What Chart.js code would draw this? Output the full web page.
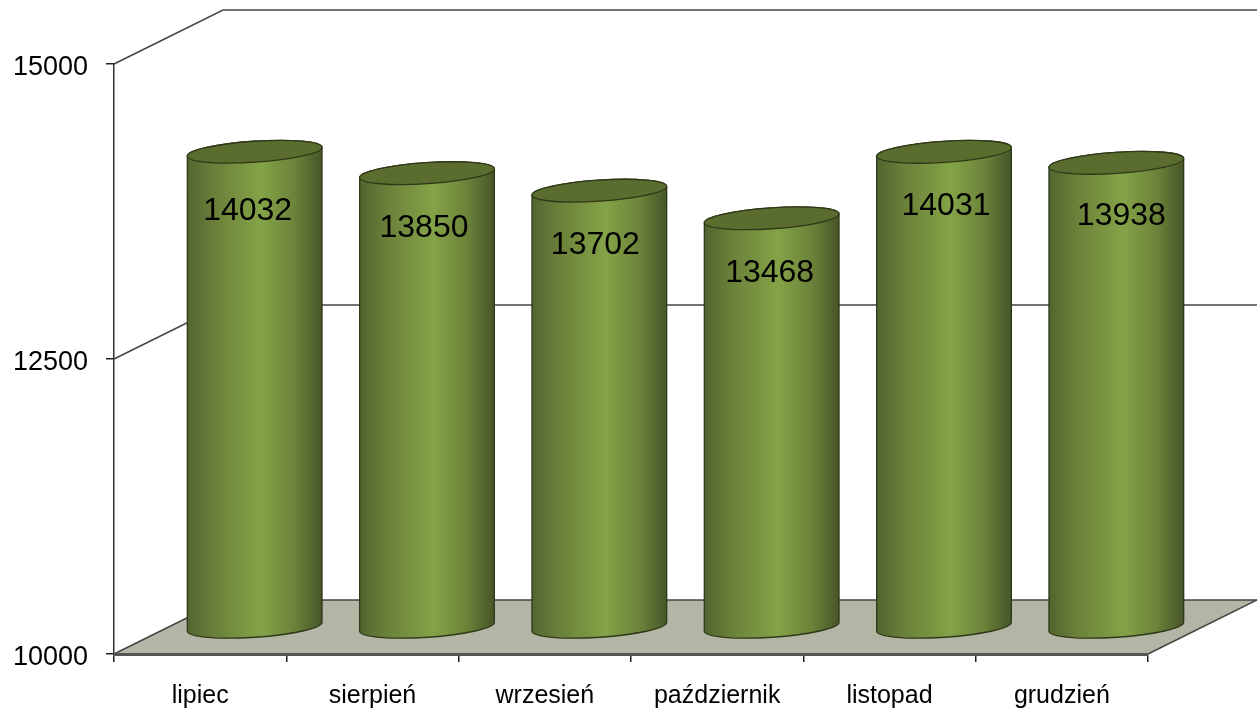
<!DOCTYPE html>
<html lang="pl">
<head>
    <meta charset="UTF-8">
    <title>Wykres</title>
    <script src="https://cdn.jsdelivr.net/npm/chart.js"></script>
    <style>
        html, body { margin: 0; padding: 0; background: #fff; overflow: hidden; }
        canvas { display: block; }
    </style>
</head>
<body>
    <canvas id="chart" width="1257" height="708"></canvas>
    <script>
        const categories = ['lipiec', 'sierpień', 'wrzesień', 'październik', 'listopad', 'grudzień'];
        const values = [14032, 13850, 13702, 13468, 14031, 13938];
        const yMin = 10000;
        const yMax = 15000;
        const yStep = 2500;

        // depth of the fake 3D box, bars sit half way in
        const depthX = 109;
        const depthY = 54;
        const barW = 135;
        const capRy = 10.5;
        const capRot = -3.8 * Math.PI / 180;
        const fontName = '"Liberation Sans", Arial, sans-serif';

        // labels were moved by hand in the original
        const labelNudgeX = [-7, -3, -4, -2, 2, 5];
        const labelNudgeY = [60, 55, 55, 55, 55, 54];

        function barGradient(ctx, left) {
            const g = ctx.createLinearGradient(left, 0, left + barW, 0);
            g.addColorStop(0, '#526430');
            g.addColorStop(0.2, '#6a8039');
            g.addColorStop(0.55, '#84a347');
            g.addColorStop(0.8, '#6b8239');
            g.addColorStop(1, '#465528');
            return g;
        }

        function silhouette(ctx, el) {
            // start on the left end of the tilted top ellipse
            const rx = barW / 2;
            ctx.moveTo(el.x - rx * Math.cos(capRot), el.y - rx * Math.sin(capRot));
            ctx.ellipse(el.x, el.y, rx, capRy, capRot, Math.PI, Math.PI * 2);
            ctx.ellipse(el.x, el.base, rx, capRy, capRot, 0, Math.PI);
            ctx.closePath();
        }

        const box3d = {
            id: 'box3d',
            beforeDraw(chart) {
                const ctx = chart.ctx;
                const a = chart.chartArea;
                const yScale = chart.scales.y;
                ctx.save();
                // floor
                ctx.fillStyle = '#b3b6a5';
                ctx.beginPath();
                ctx.moveTo(a.left, a.bottom);
                ctx.lineTo(a.right, a.bottom);
                ctx.lineTo(a.right + depthX, a.bottom - depthY);
                ctx.lineTo(a.left + depthX, a.bottom - depthY);
                ctx.closePath();
                ctx.fill();
                // gridlines running over the side and back walls
                ctx.strokeStyle = '#444';
                ctx.lineWidth = 1.5;
                for (let v = yMin; v <= yMax; v += yStep) {
                    const y = yScale.getPixelForValue(v);
                    ctx.beginPath();
                    ctx.moveTo(a.left, y);
                    ctx.lineTo(a.left + depthX, y - depthY);
                    ctx.lineTo(a.right + depthX, y - depthY);
                    ctx.stroke();
                }
                ctx.beginPath();
                ctx.moveTo(a.right, a.bottom);
                ctx.lineTo(a.right + depthX, a.bottom - depthY);
                ctx.stroke();
                ctx.restore();
            },
            beforeDatasetsDraw(chart) {
                const ctx = chart.ctx;
                const bars = chart.getDatasetMeta(0).data;
                ctx.save();
                ctx.translate(depthX / 2, -depthY / 2 + 0.5);
                ctx.save();
                ctx.beginPath();
                bars.forEach(el => silhouette(ctx, el));
                ctx.clip();
                // bits of the cylinder the flat bar does not reach
                bars.forEach(el => {
                    ctx.fillStyle = barGradient(ctx, el.x - barW / 2);
                    ctx.fillRect(el.x - barW / 2 - 2, el.y - capRy - 2, barW + 4, capRy * 2 + 4);
                    ctx.fillRect(el.x - barW / 2 - 2, el.base - capRy - 2, barW + 4, capRy * 2 + 4);
                });
            },
            afterDatasetsDraw(chart) {
                const ctx = chart.ctx;
                const bars = chart.getDatasetMeta(0).data;
                ctx.restore();
                bars.forEach(el => {
                    ctx.strokeStyle = '#2f3818';
                    ctx.lineWidth = 1.3;
                    ctx.beginPath();
                    silhouette(ctx, el);
                    ctx.stroke();
                    ctx.fillStyle = '#5a6c2e';
                    ctx.beginPath();
                    ctx.ellipse(el.x, el.y, barW / 2, capRy, capRot, 0, Math.PI * 2);
                    ctx.fill();
                    ctx.stroke();
                });
                ctx.restore();
                ctx.save();
                ctx.fillStyle = '#000';
                ctx.font = '32px ' + fontName;
                ctx.textAlign = 'center';
                ctx.textBaseline = 'middle';
                bars.forEach((el, i) => {
                    ctx.fillText(String(values[i]),
                        el.x + depthX / 2 + labelNudgeX[i],
                        el.y - depthY / 2 + labelNudgeY[i]);
                });
                ctx.restore();
            }
        };

        new Chart(document.getElementById('chart'), {
            type: 'bar',
            data: {
                labels: categories,
                datasets: [{
                    data: values,
                    base: yMin,
                    clip: false,
                    barThickness: barW,
                    backgroundColor(c) {
                        // also gets called without a bar index while options resolve
                        const x = c.chart.scales.x.getPixelForValue(c.dataIndex);
                        if (!Number.isFinite(x)) return '#84a347';
                        return barGradient(c.chart.ctx, x - barW / 2);
                    }
                }]
            },
            options: {
                responsive: false,
                animation: false,
                layout: { padding: { top: 64, right: 109, left: 0, bottom: 0 } },
                plugins: { legend: { display: false }, tooltip: { enabled: false } },
                scales: {
                    x: {
                        afterFit(s) { s.height = 54; },
                        grid: { drawOnChartArea: false, tickLength: 8, color: '#222', lineWidth: 1.5, offset: true },
                        border: { color: '#555', width: 3 },
                        ticks: {
                            color: '#000',
                            font: { family: fontName, size: 25 },
                            padding: 19,
                            maxRotation: 0,
                            autoSkip: false
                        }
                    },
                    y: {
                        min: yMin,
                        max: yMax,
                        afterFit(s) { s.width = 114; },
                        grid: { drawOnChartArea: false, tickLength: 8, color: '#222', lineWidth: 1.5 },
                        border: { color: '#333', width: 1.5 },
                        ticks: {
                            stepSize: yStep,
                            color: '#000',
                            font: { family: fontName, size: 27 },
                            padding: 18,
                            labelOffset: 4,
                            callback: v => String(v)
                        }
                    }
                }
            },
            plugins: [box3d]
        });
    </script>
</body>
</html>
